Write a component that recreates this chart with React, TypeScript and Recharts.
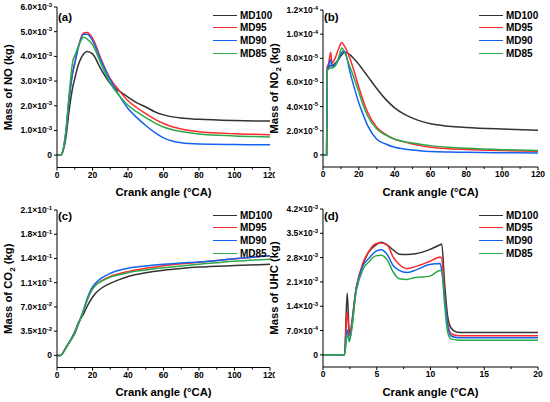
import React from 'react';
import { LineChart, Line, XAxis, YAxis, Legend } from 'recharts';

const FONT = '"Liberation Sans", Arial, sans-serif';

const seriesNames = ['MD100', 'MD95', 'MD90', 'MD85'];
const seriesColors = ['#333333', '#ff2b2b', '#1462f0', '#2ba84a'];

// (a) NO, values in 1e-3 kg
const noAngle = [0, 2, 3, 5, 7, 9, 10, 12, 15, 17, 20, 25, 30, 35, 40, 45, 50, 55, 60, 65, 70, 80, 100, 120];
const noMD100 = [0, 0, 0.1, 0.7, 1.9, 2.8, 3.1, 3.65, 4.1, 4.2, 4.1, 3.45, 2.9, 2.6, 2.35, 2.12, 1.95, 1.76, 1.63, 1.55, 1.5, 1.45, 1.4, 1.38];
const noMD95 = [0, 0, 0.1, 0.9, 2.4, 3.4, 3.75, 4.4, 4.95, 4.97, 4.75, 3.86, 3.1, 2.62, 2.2, 1.92, 1.68, 1.46, 1.28, 1.15, 1.06, 0.95, 0.87, 0.83];
const noMD90 = [0, 0, 0.1, 0.9, 2.4, 3.4, 3.7, 4.35, 4.9, 4.9, 4.64, 3.8, 3.05, 2.42, 1.89, 1.52, 1.2, 0.92, 0.7, 0.57, 0.5, 0.45, 0.43, 0.42];
const noMD85 = [0, 0, 0.1, 1.0, 2.6, 3.85, 4.02, 4.4, 4.78, 4.7, 4.48, 3.66, 2.91, 2.42, 2.02, 1.75, 1.52, 1.31, 1.14, 1.03, 0.96, 0.86, 0.78, 0.74];
const noTicks = [0, 1, 2, 3, 4, 5, 6];
const noTickLabels = ['0', '1.0×10^-3', '2.0×10^-3', '3.0×10^-3', '4.0×10^-3', '5.0×10^-3', '6.0×10^-3'];

// (b) NO2, values in 1e-5 kg
const no2Angle = [0, 2, 2.4, 3, 4.3, 5, 7, 9, 10.5, 12, 15, 17, 20, 22, 25, 30, 35, 40, 45, 50, 55, 60, 70, 80, 100, 120];
const no2MD100 = [0, 0, 7.0, 7.2, 7.4, 7.4, 7.6, 8.0, 8.3, 8.5, 8.3, 8.0, 7.5, 7.1, 6.5, 5.5, 4.6, 3.9, 3.4, 3.05, 2.78, 2.58, 2.38, 2.27, 2.14, 2.05];
const no2MD95 = [0, 0, 7.3, 7.5, 8.5, 7.6, 8.1, 8.9, 9.3, 9.0, 8.0, 7.1, 5.6, 4.7, 3.5, 2.3, 1.7, 1.3, 1.08, 0.9, 0.75, 0.64, 0.52, 0.45, 0.36, 0.3];
const no2MD90 = [0, 0, 7.2, 7.3, 7.9, 7.3, 7.5, 8.0, 8.5, 8.6, 6.9, 5.8, 4.3, 3.5, 2.4, 1.3, 0.9, 0.63, 0.5, 0.4, 0.32, 0.28, 0.24, 0.22, 0.18, 0.16];
const no2MD85 = [0, 0, 7.0, 7.1, 7.2, 7.2, 7.4, 8.2, 8.85, 8.5, 7.3, 6.5, 5.2, 4.3, 3.2, 2.15, 1.65, 1.3, 1.12, 0.98, 0.86, 0.77, 0.64, 0.55, 0.43, 0.36];
const no2Ticks = [0, 2, 4, 6, 8, 10, 12];
const no2TickLabels = ['0', '2.0×10^-5', '4.0×10^-5', '6.0×10^-5', '8.0×10^-5', '1.0×10^-4', '1.2×10^-4'];

// (c) CO2, values in 1e-2 kg
const co2Angle = [0, 2, 5, 8, 10, 12, 15, 17, 20, 22, 25, 30, 35, 40, 50, 60, 70, 80, 100, 120];
const co2MD100 = [0, 0, 1.1, 2.4, 3.4, 4.7, 6.0, 7.1, 8.4, 9.05, 9.7, 10.4, 10.95, 11.4, 11.95, 12.3, 12.55, 12.75, 12.97, 13.15];
const co2MD95 = [0, 0, 1.1, 2.3, 3.2, 4.5, 6.5, 8.0, 9.6, 10.2, 10.75, 11.4, 11.8, 12.1, 12.57, 12.95, 13.22, 13.45, 13.95, 14.4];
const co2MD90 = [0, 0, 1.1, 2.3, 3.2, 4.5, 6.6, 8.2, 9.9, 10.5, 11.15, 11.85, 12.3, 12.6, 12.9, 13.15, 13.35, 13.5, 13.95, 14.4];
const co2MD85 = [0, 0, 1.1, 2.3, 3.2, 4.6, 6.5, 8.0, 9.6, 10.2, 10.7, 11.3, 11.65, 11.95, 12.33, 12.65, 12.92, 13.15, 13.6, 13.9];
const co2Ticks = [0, 3.5, 7, 10.5, 14, 17.5, 21];
const co2TickLabels = ['0', '3.5×10^-2', '7.0×10^-2', '1.1×10^-1', '1.4×10^-1', '1.8×10^-1', '2.1×10^-1'];

// (d) UHC, values in 1e-4 kg
const uhcAngle = [0, 2, 2.25, 2.45, 3.1, 3.7, 4.3, 4.9, 5.4, 6.0, 6.5, 7.1, 7.8, 8.6, 9.9, 10.9, 11.05, 11.3, 11.6, 11.9, 12.4, 13, 15, 20];
const uhcMD100 = [0, 0, 17.8, 6.3, 19.3, 26, 29.8, 31.6, 32.4, 31.6, 30.3, 29.0, 28.9, 29.1, 30.3, 31.7, 31.9, 21, 11, 7.8, 6.6, 6.4, 6.4, 6.4];
const uhcMD95 = [0, 0, 12.5, 5.4, 19.5, 26.3, 30.0, 32.0, 32.2, 31.5, 28.3, 26.0, 24.8, 25.4, 26.9, 28.2, 27.8, 17.8, 9.2, 6.2, 5.6, 5.5, 5.5, 5.5];
const uhcMD90 = [0, 0, 7.2, 4.3, 19.0, 25.5, 27.9, 29.8, 30.3, 28.8, 25.8, 24.3, 23.7, 24.4, 26.0, 26.3, 24.1, 17, 8.5, 5.5, 5.0, 4.9, 4.9, 4.9];
const uhcMD85 = [0, 0, 6.0, 3.8, 18.5, 24.5, 26.9, 28.5, 28.7, 27.2, 24.0, 21.9, 21.7, 22.3, 22.6, 24.3, 24.2, 15, 6.5, 4.6, 4.3, 4.2, 4.2, 4.2];
const uhcTicks = [0, 7, 14, 21, 28, 35, 42];
const uhcTickLabels = ['0', '7.0×10^-4', '1.4×10^-3', '2.1×10^-3', '2.8×10^-3', '3.5×10^-3', '4.2×10^-3'];

const crankTicks = [0, 10, 20, 30, 40, 50, 60, 70, 80, 90, 100, 110, 120];
const crankTickLabels = ['0', '', '20', '', '40', '', '60', '', '80', '', '100', '', '120'];
const shortCrankTicks = [0, 2.5, 5, 7.5, 10, 12.5, 15, 17.5, 20];
const shortCrankTickLabels = ['0', '', '5', '', '10', '', '15', '', '20'];

const buildRows = (angle: number[], series: number[][]) =>
  angle.map((a, i) => {
    const row: Record<string, number> = { angle: a };
    seriesNames.forEach((n, k) => (row[n] = series[k][i]));
    return row;
  });

const YTick = (props: any) => {
  const { x, y, payload, ticks, labels } = props;
  const i = ticks.indexOf(payload.value);
  const [mant, exp] = (labels[i] ?? '').split('^');
  return (
    <text x={x} y={y} dy={3} textAnchor="end" fontSize={8.5} fontWeight="bold" fill="#000" fontFamily={FONT}>
      {mant}
      {exp && (
        <tspan dy={-3.5} fontSize={6}>
          {exp}
        </tspan>
      )}
    </text>
  );
};

const XTick = (props: any) => {
  const { x, y, payload, ticks, labels } = props;
  const i = ticks.indexOf(payload.value);
  const label = labels[i];
  const axisY = y - 5;
  return (
    <g>
      <line x1={x} x2={x} y1={axisY} y2={axisY + (label ? 3 : 2)} stroke="#000" />
      {label && (
        <text x={x} y={axisY + 10} textAnchor="middle" fontSize={8.5} fontWeight="bold" fill="#000" fontFamily={FONT}>
          {label}
        </text>
      )}
    </g>
  );
};

const YTitle = ({ viewBox, parts }: any) => {
  const cx = viewBox.x + 12;
  const cy = viewBox.y + viewBox.height / 2;
  return (
    <text
      transform={`translate(${cx},${cy}) rotate(-90)`}
      textAnchor="middle"
      fontSize={11.3}
      fontWeight="bold"
      fill="#000"
      fontFamily={FONT}
    >
      {parts.map((p: string, i: number) =>
        i % 2 ? (
          <tspan key={i} dy={3} fontSize={8}>
            {p}
          </tspan>
        ) : (
          <tspan key={i} dy={i ? -3 : 0}>
            {p}
          </tspan>
        )
      )}
    </text>
  );
};

const XTitle = ({ viewBox }: any) => (
  <text
    x={viewBox.x + viewBox.width / 2}
    y={viewBox.y + 28.5}
    textAnchor="middle"
    fontSize={11.3}
    fontWeight="bold"
    fill="#000"
    fontFamily={FONT}
  >
    Crank angle (°CA)
  </text>
);

const LegendBox = ({ payload }: any) => {
  const items = [...(payload || [])].sort(
    (a: any, b: any) => seriesNames.indexOf(a.value) - seriesNames.indexOf(b.value)
  );
  return (
    <div style={{ fontFamily: FONT, fontWeight: 'bold', fontSize: 10, color: '#000' }}>
      {items.map((e: any) => (
        <div key={e.value} style={{ display: 'flex', alignItems: 'center', height: 12.6 }}>
          <span style={{ display: 'inline-block', width: 24, borderTop: `1.5px solid ${e.color}`, marginRight: 3 }} />
          <span>{e.value}</span>
        </div>
      ))}
    </div>
  );
};

const Panel = (props: any) => {
  const { left, top, width, margin, rows, xDomain, xTicks, xLabels, yDomain, yTicks, yLabels, titleParts, tag, tagTop, legendTop } = props;
  return (
    <div style={{ position: 'absolute', left, top, width, height: 201 }}>
      <LineChart width={width} height={201} data={rows} margin={margin}>
        <XAxis
          dataKey="angle"
          type="number"
          domain={xDomain}
          ticks={xTicks}
          interval={0}
          height={30}
          tickSize={3}
          tickMargin={2}
          tickLine={false}
          axisLine={{ stroke: '#000' }}
          tick={(p: any) => <XTick {...p} ticks={xTicks} labels={xLabels} />}
          label={{ content: (p: any) => <XTitle {...p} /> }}
        />
        <XAxis xAxisId="top" orientation="top" type="number" domain={xDomain} height={0} tick={false} tickLine={false} axisLine={{ stroke: '#000' }} />
        <YAxis
          type="number"
          domain={yDomain}
          ticks={yTicks}
          interval={0}
          width={57}
          tickSize={3}
          tickMargin={2}
          tickLine={{ stroke: '#000' }}
          axisLine={{ stroke: '#000' }}
          allowDataOverflow
          tick={(p: any) => <YTick {...p} ticks={yTicks} labels={yLabels} />}
          label={{ content: (p: any) => <YTitle {...p} parts={titleParts} /> }}
        />
        <YAxis yAxisId="right" orientation="right" type="number" domain={yDomain} width={0} tick={false} tickLine={false} axisLine={{ stroke: '#000' }} />
        <Legend
          layout="vertical"
          align="center"
          verticalAlign="middle"
          wrapperStyle={{ top: legendTop, left: 213, width: 'auto', height: 'auto' }}
          content={(p: any) => <LegendBox {...p} />}
        />
        {seriesNames.map((n, k) => (
          <Line
            key={n}
            type="monotone"
            dataKey={n}
            name={n}
            stroke={seriesColors[k]}
            strokeWidth={1.5}
            dot={false}
            activeDot={false}
            isAnimationActive={false}
          />
        ))}
      </LineChart>
      <div
        style={{
          position: 'absolute',
          left: 58,
          top: tagTop,
          fontFamily: FONT,
          fontWeight: 'bold',
          fontSize: 11.5,
          lineHeight: '12px',
          color: '#000',
        }}
      >
        {tag}
      </div>
    </div>
  );
};

const App = () => (
  <div style={{ position: 'absolute', left: 0, top: 0, width: 550, height: 402, background: '#fff', overflow: 'hidden' }}>
    <Panel
      left={0}
      top={0}
      width={275}
      margin={{ top: 7, right: 5, bottom: 3.5, left: 0 }}
      rows={buildRows(noAngle, [noMD100, noMD95, noMD90, noMD85])}
      xDomain={[0, 120]}
      xTicks={crankTicks}
      xLabels={crankTickLabels}
      yDomain={[-0.5, 6]}
      yTicks={noTicks}
      yLabels={noTickLabels}
      titleParts={['Mass of NO (kg)']}
      tag="(a)"
      tagTop={11}
      legendTop={9}
    />
    <Panel
      left={266}
      top={0}
      width={284}
      margin={{ top: 10, right: 12, bottom: 4, left: 0 }}
      rows={buildRows(no2Angle, [no2MD100, no2MD95, no2MD90, no2MD85])}
      xDomain={[0, 120]}
      xTicks={crankTicks}
      xLabels={crankTickLabels}
      yDomain={[-1, 12]}
      yTicks={no2Ticks}
      yLabels={no2TickLabels}
      titleParts={['Mass of NO', '2', ' (kg)']}
      tag="(b)"
      tagTop={11}
      legendTop={9}
    />
    <Panel
      left={0}
      top={201}
      width={275}
      margin={{ top: 9, right: 5, bottom: 4.5, left: 0 }}
      rows={buildRows(co2Angle, [co2MD100, co2MD95, co2MD90, co2MD85])}
      xDomain={[0, 120]}
      xTicks={crankTicks}
      xLabels={crankTickLabels}
      yDomain={[-1.75, 21]}
      yTicks={co2Ticks}
      yLabels={co2TickLabels}
      titleParts={['Mass of CO', '2', ' (kg)']}
      tag="(c)"
      tagTop={9}
      legendTop={8}
    />
    <Panel
      left={266}
      top={201}
      width={284}
      margin={{ top: 8, right: 12, bottom: 5, left: 0 }}
      rows={buildRows(uhcAngle, [uhcMD100, uhcMD95, uhcMD90, uhcMD85])}
      xDomain={[0, 20]}
      xTicks={shortCrankTicks}
      xLabels={shortCrankTickLabels}
      yDomain={[-3.5, 42]}
      yTicks={uhcTicks}
      yLabels={uhcTickLabels}
      titleParts={['Mass of UHC (kg)']}
      tag="(d)"
      tagTop={9}
      legendTop={8}
    />
  </div>
);

export default App;
